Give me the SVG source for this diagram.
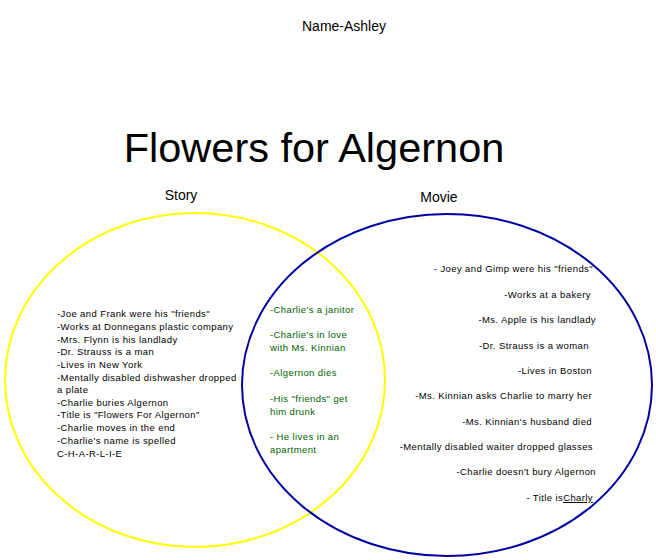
<svg xmlns="http://www.w3.org/2000/svg" width="656" height="560" viewBox="0 0 656 560">
<style>
text{font-family:"Liberation Sans",Arial,sans-serif;fill:#000}
.s{font-size:9.5px;letter-spacing:0.4px}
.g{fill:#006000}
.r{text-anchor:end}
</style>
<rect width="656" height="560" fill="#fff"/>
<g id="circles">
<ellipse cx="195" cy="380" rx="190" ry="167" fill="none" stroke="#ffff00" stroke-width="2"/>
<ellipse cx="447" cy="385" rx="205" ry="171" fill="none" stroke="#0000a0" stroke-width="2"/>
</g>
<g id="titles">
<text x="344" y="31" font-size="14" text-anchor="middle">Name-Ashley</text>
<text x="314" y="162" font-size="41.5" text-anchor="middle">Flowers for Algernon</text>
<text x="181" y="200" font-size="14" text-anchor="middle">Story</text>
<text x="439" y="202" font-size="14" text-anchor="middle">Movie</text>
</g>
<g id="story" class="s">
<text x="57" y="317">-Joe and Frank were his "friends"</text>
<text x="57" y="330">-Works at Donnegans plastic company</text>
<text x="57" y="343">-Mrs. Flynn is his landlady</text>
<text x="57" y="355">-Dr. Strauss is a man</text>
<text x="57" y="368">-Lives in New York</text>
<text x="57" y="381">-Mentally disabled dishwasher dropped</text>
<text x="57" y="393">a plate</text>
<text x="57" y="406">-Charlie buries Algernon</text>
<text x="57" y="418">-Title is "Flowers For Algernon"</text>
<text x="57" y="431">-Charlie moves in the end</text>
<text x="57" y="444">-Charlie's name is spelled</text>
<text x="57" y="457">C-H-A-R-L-I-E</text>
</g>
<g id="both" class="s">
<text class="g" x="270" y="313">-Charlie's a janitor</text>
<text class="g" x="270" y="338">-Charlie's in love</text>
<text class="g" x="270" y="351">with Ms. Kinnian</text>
<text class="g" x="270" y="376">-Algernon dies</text>
<text class="g" x="270" y="402">-His "friends" get</text>
<text class="g" x="270" y="415">him drunk</text>
<text class="g" x="270" y="440">- He lives in an</text>
<text class="g" x="270" y="453">apartment</text>
</g>
<g id="movie" class="s r">
<text x="593" y="272">- Joey and Gimp were his "friends"</text>
<text x="591" y="298">-Works at a bakery</text>
<text x="596" y="323">-Ms. Apple is his landlady</text>
<text x="589" y="349">-Dr. Strauss is a woman</text>
<text x="592" y="374">-Lives in Boston</text>
<text x="592" y="399">-Ms. Kinnian asks Charlie to marry her</text>
<text x="592" y="425">-Ms. Kinnian's husband died</text>
<text x="593" y="450">-Mentally disabled waiter dropped glasses</text>
<text x="596" y="475">-Charlie doesn't bury Algernon</text>
<text x="593" y="501">- Title is<tspan text-decoration="underline">Charly</tspan></text>
</g>
</svg>
